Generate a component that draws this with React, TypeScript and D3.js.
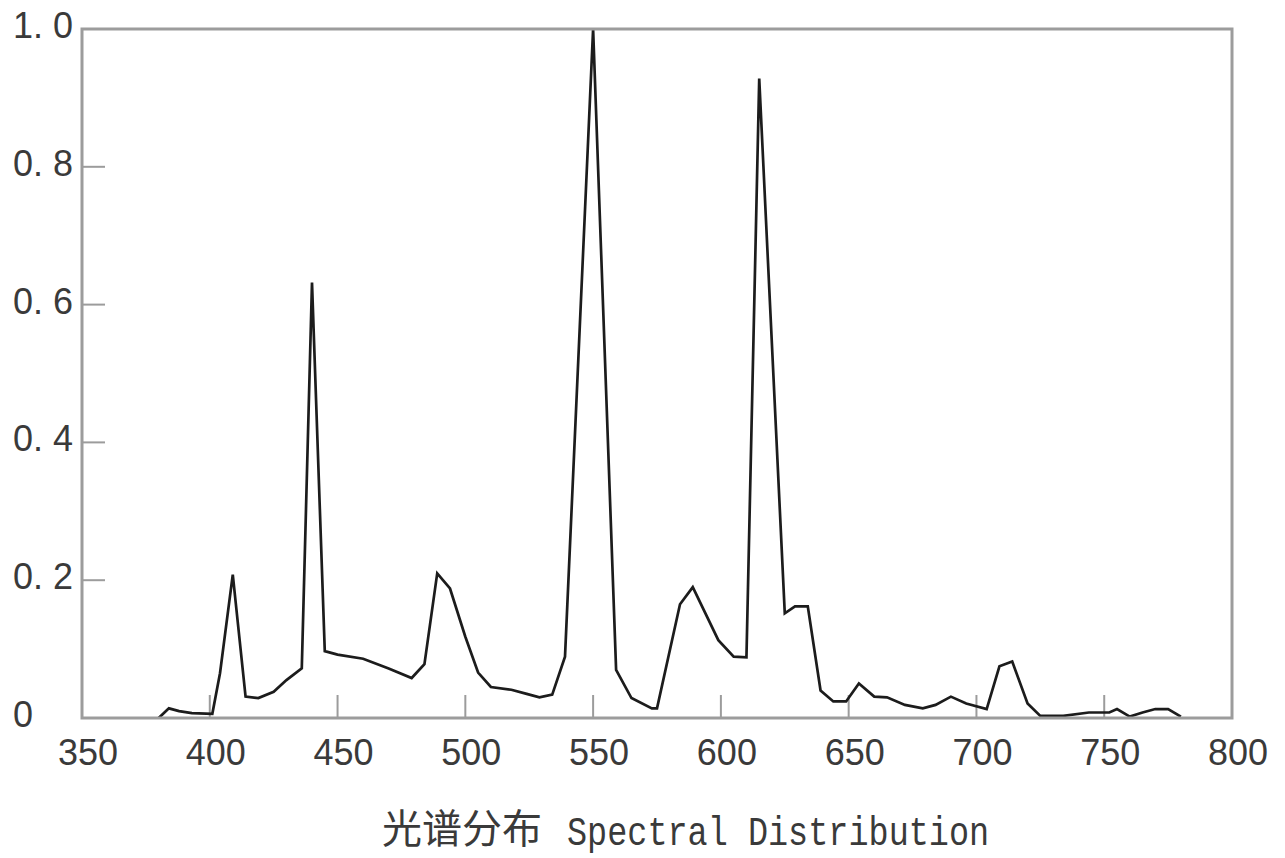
import React from 'react';
import * as d3 from 'd3';

// wavelength (nm) and relative intensity
const wavelengths = [
	380, 384, 388, 393, 401, 404, 409, 414, 419, 425, 430, 436, 440, 445, 450, 460,
	470, 479, 484, 489, 494, 500, 505, 510, 518, 524, 529, 534, 539, 550, 559, 565,
	573, 575, 584, 589, 599, 605, 610, 615, 625, 629, 634, 639, 644, 649, 654, 660,
	665, 672, 679, 684, 690, 696, 704, 709, 714, 720, 725, 734, 744, 752, 755, 760,
	765, 770, 775, 780,
];
const intensity = [
	0, 0.014, 0.01, 0.007, 0.006, 0.065, 0.208, 0.031, 0.029, 0.038, 0.055, 0.072,
	0.632, 0.097, 0.092, 0.086, 0.072, 0.058, 0.078, 0.21, 0.188, 0.118, 0.066,
	0.045, 0.041, 0.035, 0.03, 0.034, 0.089, 1.0, 0.07, 0.029, 0.014, 0.014, 0.165,
	0.19, 0.113, 0.089, 0.088, 0.928, 0.152, 0.162, 0.162, 0.04, 0.024, 0.024,
	0.05, 0.031, 0.03, 0.019, 0.014, 0.019, 0.031, 0.021, 0.013, 0.075, 0.082,
	0.021, 0.003, 0.003, 0.008, 0.008, 0.013, 0.002, 0.008, 0.013, 0.013, 0.002,
];

const xTicks = [350, 400, 450, 500, 550, 600, 650, 700, 750, 800];
const yTicks = [0, 0.2, 0.4, 0.6, 0.8, 1.0];
const yTickLabels = ['0', '0. 2', '0. 4', '0. 6', '0. 8', '1. 0'];
const titleCn = '光谱分布';
const titleEn = 'Spectral Distribution';

const W = 1285;
const H = 858;
const margin = { top: 29, right: 53, bottom: 140, left: 82 };
const innerW = W - margin.left - margin.right;
const innerH = H - margin.top - margin.bottom;

const sansFont = '"Liberation Sans", Arial, sans-serif';
const monoFont = '"Liberation Mono", "DejaVu Sans Mono", monospace';
const labelColor = '#3a3a3a';
const frameColor = '#9c9c9c';

const App: React.FC = () => {
	const x = d3.scaleLinear().domain([350, 800]).range([0, innerW]);
	const y = d3.scaleLinear().domain([0, 1]).range([innerH, 0]);

	const points = wavelengths.map((w, i) => [w, intensity[i]] as [number, number]);
	const line = d3
		.line<[number, number]>()
		.x((d) => x(d[0]))
		.y((d) => y(d[1]));

	const tickLen = 23;

	return (
		<svg
			width={W}
			height={H}
			style={{ position: 'absolute', left: 0, top: 0, background: '#fff' }}>
			<g transform={`translate(${margin.left},${margin.top})`}>
				{/* inward ticks */}
				{xTicks.slice(1, -1).map((t) => (
					<line
						key={`xt${t}`}
						x1={x(t)}
						x2={x(t)}
						y1={innerH}
						y2={innerH - tickLen}
						stroke={frameColor}
						strokeWidth={2}
					/>
				))}
				{yTicks.slice(1, -1).map((t) => (
					<line
						key={`yt${t}`}
						x1={0}
						x2={tickLen}
						y1={y(t)}
						y2={y(t)}
						stroke={frameColor}
						strokeWidth={2}
					/>
				))}

				<path
					d={line(points) ?? ''}
					fill="none"
					stroke="#1c1c1c"
					strokeWidth={2.7}
					strokeLinejoin="miter"
				/>

				{/* frame */}
				<rect
					x={0}
					y={0}
					width={innerW}
					height={innerH}
					fill="none"
					stroke={frameColor}
					strokeWidth={3}
				/>

				{/* x tick labels */}
				{xTicks.map((t) => (
					<text
						key={`xl${t}`}
						x={x(t) + 6}
						y={innerH + 47}
						textAnchor="middle"
						fontFamily={sansFont}
						fontSize={36}
						fill={labelColor}>
						{t}
					</text>
				))}

				{/* y tick labels, left aligned */}
				{yTicks.map((t, i) => (
					<text
						key={`yl${t}`}
						x={13 - margin.left}
						y={y(t) + 9}
						textAnchor="start"
						fontFamily={sansFont}
						fontSize={36}
						fill={labelColor}>
						{yTickLabels[i]}
					</text>
				))}
			</g>

			{/* title */}
			<text
				x={382}
				y={843}
				fontFamily='"Noto Sans CJK SC", sans-serif'
				fontSize={40}
				fill={labelColor}>
				{titleCn}
			</text>
			<text
				transform={`translate(567,845) scale(1,1.2)`}
				fontFamily={monoFont}
				fontSize={33.5}
				fill={labelColor}>
				{titleEn}
			</text>
		</svg>
	);
};

export default App;
